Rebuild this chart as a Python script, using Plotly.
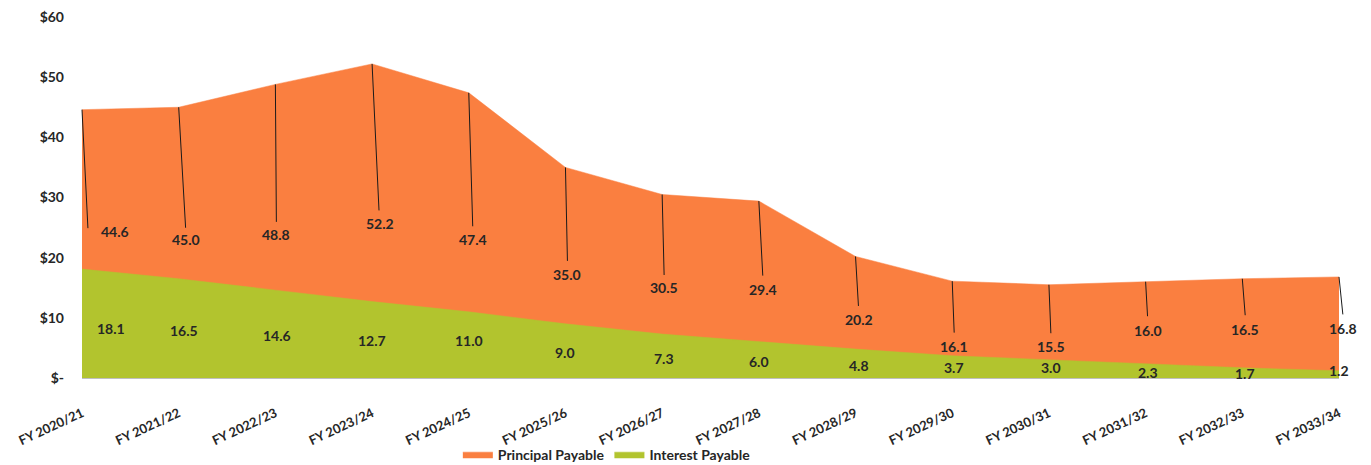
import plotly.graph_objects as go

# ---- data ----
years = ["FY 2020/21", "FY 2021/22", "FY 2022/23", "FY 2023/24", "FY 2024/25",
         "FY 2025/26", "FY 2026/27", "FY 2027/28", "FY 2028/29", "FY 2029/30",
         "FY 2030/31", "FY 2031/32", "FY 2032/33", "FY 2033/34"]
principal = [44.6, 45.0, 48.8, 52.2, 47.4, 35.0, 30.5, 29.4, 20.2, 16.1, 15.5, 16.0, 16.5, 16.8]
interest = [18.1, 16.5, 14.6, 12.7, 11.0, 9.0, 7.3, 6.0, 4.8, 3.7, 3.0, 2.3, 1.7, 1.2]
y_tick_vals = [0, 10, 20, 30, 40, 50, 60]
y_tick_text = ["$-", "$10", "$20", "$30", "$40", "$50", "$60"]

# ---- label placement (pixel offsets, style only) ----
leader_end = [(6, 120), (7, 122), (1, 139), (7, 148), (4, 135), (2, 95), (2, 82),
              (4, 76), (3, 51), (2, 53), (2, 50), (2, 36), (3, 38), (4, 39)]
principal_lbl = [(33, 122), (7, 132), (1, 150), (8, 160), (4, 147), (2, 107), (2, 93),
                 (4, 88), (3, 63), (2, 65), (2, 62), (2, 49), (3, 51), (4, 52)]
interest_lbl = [(29, -5), (5, -2), (2, -1), (0, -1), (0, 4), (0, -2), (2, -2),
                (0, -2), (3, -2), (2, -1), (2, 1), (2, -1), (3, -1), (0, 4)]

ORANGE = "#FA7F40"
GREEN = "#B2C42E"
TXT = "#262626"
FONT = "Lato"

fig = go.Figure()
fig.add_trace(go.Scatter(x=years, y=principal, name="Principal Payable", mode="lines",
                         fill="tozeroy", fillcolor=ORANGE, line=dict(color=ORANGE, width=0.5)))
fig.add_trace(go.Scatter(x=years, y=interest, name="Interest Payable", mode="lines",
                         fill="tozeroy", fillcolor=GREEN, line=dict(color=GREEN, width=0.5)))

annotations = []
for cat, v, (lx, ly), (tx, ty) in zip(years, principal, leader_end, principal_lbl):
    annotations.append(dict(x=cat, y=v, xref="x", yref="y", text="", showarrow=True,
                            ax=lx, ay=ly, arrowhead=0, arrowwidth=1, arrowcolor="#1a1a1a",
                            standoff=0, startstandoff=0))
    annotations.append(dict(x=cat, y=v, xref="x", yref="y", text=f"{v:.1f}", showarrow=False,
                            xshift=tx, yshift=-ty, font=dict(size=14, color=TXT, family=FONT, weight="bold")))
for cat, v, (tx, ty) in zip(years, interest, interest_lbl):
    annotations.append(dict(x=cat, y=v / 2, xref="x", yref="y", text=f"{v:.1f}", showarrow=False,
                            xshift=tx, yshift=ty, font=dict(size=14, color=TXT, family=FONT, weight="bold")))

# page body adds an 8px margin, so the figure is sized 8px smaller
fig.update_layout(
    width=1363, height=457,
    margin=dict(l=74, r=32, t=9, b=87, autoexpand=False),
    paper_bgcolor="white", plot_bgcolor="white",
    font=dict(family=FONT, size=14, color=TXT, weight="bold"),
    showlegend=True,
    legend=dict(orientation="h", x=0.299, xanchor="left", y=-0.212, yanchor="middle",
                bgcolor="rgba(0,0,0,0)",
                font=dict(size=14, color=TXT, family=FONT, weight="bold"),
                traceorder="normal", itemwidth=30, tracegroupgap=0),
    annotations=annotations,
    xaxis=dict(type="category", range=[0, 13], showgrid=False, zeroline=False, automargin=False,
               showline=True, linecolor="#BFBFBF", linewidth=1, ticks="",
               tickangle=-25, ticklabelstandoff=22, ticklabeloverflow="allow",
               tickfont=dict(size=13, color=TXT, family=FONT, weight="bold")),
    yaxis=dict(range=[0, 60], tickvals=y_tick_vals, ticktext=y_tick_text, showgrid=False,
               zeroline=False, showline=False, ticks="", ticklabelstandoff=17, automargin=False,
               ticklabeloverflow="allow",
               tickfont=dict(size=14, color=TXT, family=FONT, weight="bold")),
)

fig.write_html("out.html")
